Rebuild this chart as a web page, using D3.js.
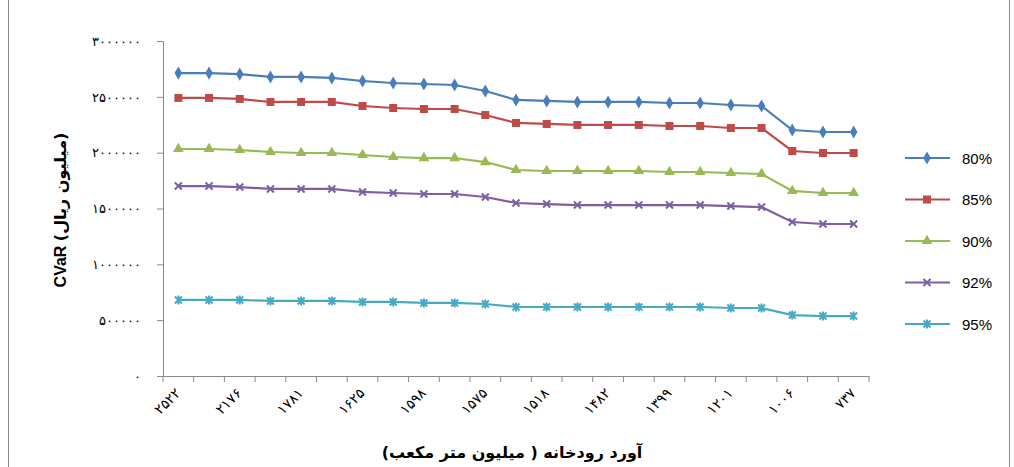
<!DOCTYPE html>
<html><head><meta charset="utf-8">
<script src="https://cdn.jsdelivr.net/npm/d3@7"></script>
<style>body{margin:0;background:#fff}svg{font-family:"DejaVu Sans",sans-serif}</style>
</head><body><div id="chart"></div>
<script>
// x categories (only every other one is labelled)
const xLabels = ['2522','','2176','','1781','','1625','','1598','','1575','','1518','','1482','','1399','','1201','','1006','','737'];
const seriesNames = ['80%','85%','90%','92%','95%'];
const s80 = [2713,2713,2704,2678,2678,2669,2642,2624,2615,2606,2552,2472,2463,2454,2454,2454,2445,2445,2427,2418,2203,2185,2185];
const s85 = [2490,2490,2481,2454,2454,2454,2418,2400,2391,2391,2337,2266,2257,2248,2248,2248,2239,2239,2221,2221,2015,1997,1997];
const s90 = [2033,2033,2024,2006,1997,1997,1979,1961,1952,1952,1916,1845,1836,1836,1836,1836,1827,1827,1818,1809,1657,1639,1639];
const s92 = [1701,1701,1692,1675,1675,1675,1648,1639,1630,1630,1603,1549,1540,1531,1531,1531,1531,1531,1522,1513,1379,1361,1361];
const s95 = [681,681,681,672,672,672,663,663,654,654,645,618,618,618,618,618,618,618,609,609,546,537,537];
const yTicks = [0,500000,1000000,1500000,2000000,2500000,3000000];

const series = [s80,s85,s90,s92,s95].map(a => a.map(v => v*1000));
const colors = ['#4a7ebb','#be4b48','#98b954','#7d60a0','#46aac5'];
const shapes = ['diamond','square','triangle','x','star'];
const fa = s => String(s).replace(/\d/g, d => '۰۱۲۳۴۵۶۷۸۹'[d]);

const W = 1014, H = 467;
const svg = d3.select('#chart').append('svg').attr('width', W).attr('height', H);
svg.append('rect').attr('x',8.5).attr('y',-1).attr('width',1001).attr('height',H+2)
  .attr('fill','none').attr('stroke','#888');

const x = d3.scaleBand().domain(d3.range(xLabels.length)).range([163, 869]);
const y = d3.scaleLinear().domain([0, 3000000]).range([376, 41]);

const yAx = svg.append('g').attr('transform','translate(163,0)')
  .call(d3.axisLeft(y).tickValues(yTicks).tickSize(6).tickPadding(16).tickFormat(fa));
const xAx = svg.append('g').attr('transform','translate(0,376)')
  .call(d3.axisBottom(x).tickSize(0).tickFormat(''));
[yAx, xAx].forEach(g => { g.select('.domain').attr('stroke','#888'); g.selectAll('line').attr('stroke','#888'); });
yAx.selectAll('text').attr('font-size',13).attr('fill','#000');
// ticks between categories
svg.append('g').selectAll('line').data(d3.range(xLabels.length+1)).join('line')
  .attr('x1', i => 163 + i*x.step()).attr('x2', i => 163 + i*x.step())
  .attr('y1',376).attr('y2',382).attr('stroke','#888');
svg.append('g').selectAll('text').data(xLabels.map((l,i)=>[l,i]).filter(d=>d[0])).join('text')
  .attr('transform', d => `translate(${x(d[1])+x.bandwidth()/2+3},394) rotate(-45)`)
  .attr('text-anchor','end').attr('font-size',14).text(d => fa(d[0]));

const line = d3.line().x((d,i) => x(i)+x.bandwidth()/2).y(d => y(d));
function marker(g, shape, c) {
  if (shape === 'diamond') g.append('path').attr('d', d3.symbol(d3.symbolDiamond, 50)()).attr('fill', c);
  else if (shape === 'square') g.append('rect').attr('x',-4).attr('y',-4).attr('width',8).attr('height',8).attr('fill', c);
  else if (shape === 'triangle') g.append('path').attr('d', d3.symbol(d3.symbolTriangle, 50)()).attr('fill', c);
  else {
    g.append('path').attr('d','M-3.5,-3.5L3.5,3.5M-3.5,3.5L3.5,-3.5' + (shape==='star' ? 'M0,-4.5L0,4.5' : ''))
      .attr('stroke', c).attr('stroke-width', 2).attr('fill','none');
  }
}
series.forEach((s, k) => {
  svg.append('path').datum(s).attr('d', line).attr('fill','none').attr('stroke', colors[k]).attr('stroke-width', 2.2);
  s.forEach((v, i) => marker(svg.append('g').attr('transform', `translate(${x(i)+x.bandwidth()/2},${y(v)})`), shapes[k], colors[k]));
  const ly = 158 + k*41.5;
  svg.append('line').attr('x1',905).attr('x2',950).attr('y1',ly).attr('y2',ly).attr('stroke',colors[k]).attr('stroke-width',2.2);
  marker(svg.append('g').attr('transform',`translate(927,${ly})`), shapes[k], colors[k]);
  svg.append('text').attr('x',962).attr('y',ly+5.5).attr('font-size',15).attr('font-family','Liberation Sans, Arial').text(seriesNames[k]);
});

svg.append('text').attr('transform','translate(66,210) rotate(-90)').attr('text-anchor','middle')
  .attr('font-size',16).attr('font-weight','bold').attr('direction','ltr')
  .html('<tspan font-family="Liberation Sans, Arial">CVaR </tspan><tspan>(میلیون ریال)</tspan>');
svg.append('text').attr('x',512).attr('y',458).attr('text-anchor','middle').attr('direction','rtl')
  .attr('font-size',16).attr('font-weight','bold').text('آورد رودخانه ( میلیون متر مکعب)');
</script></body></html>
